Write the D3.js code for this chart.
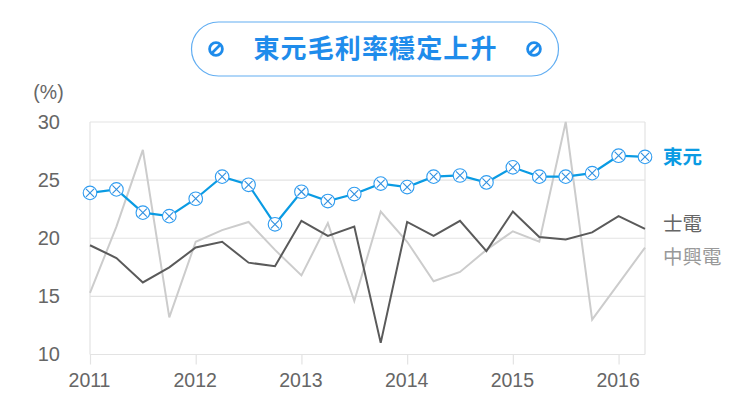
<!DOCTYPE html>
<html>
<head>
<meta charset="utf-8">
<script src="https://cdn.jsdelivr.net/npm/d3@7"></script>
<style>
html, body { margin: 0; padding: 0; background: #fff; }
svg { display: block; }
text { font-family: "Liberation Sans", "Noto Sans CJK TC", sans-serif; }
.cjk { font-family: "Noto Sans CJK TC", sans-serif; }
</style>
</head>
<body>
<div id="chart"></div>
<script>
const quarters = [2011, 2011.25, 2011.5, 2011.75, 2012, 2012.25, 2012.5, 2012.75, 2013, 2013.25, 2013.5,
  2013.75, 2014, 2014.25, 2014.5, 2014.75, 2015, 2015.25, 2015.5, 2015.75, 2016, 2016.25];
const dongyuan = [23.9, 24.2, 22.2, 21.9, 23.4, 25.3, 24.6, 21.2, 24.0, 23.2, 23.8,
  24.7, 24.4, 25.3, 25.4, 24.8, 26.1, 25.3, 25.3, 25.6, 27.1, 27.0];
const shihlin = [19.4, 18.3, 16.2, 17.5, 19.2, 19.7, 17.9, 17.6, 21.5, 20.2, 21.0,
  11.0, 21.4, 20.2, 21.5, 18.9, 22.3, 20.1, 19.9, 20.5, 21.9, 20.8];
const chunghsin = [15.3, 21.0, 27.6, 13.2, 19.7, 20.7, 21.4, 19.0, 16.8, 21.3, 14.6,
  22.3, 19.7, 16.3, 17.1, 19.0, 20.6, 19.7, 30.0, 13.0, 16.1, 19.2];
const yearTicks = [2011, 2012, 2013, 2014, 2015, 2016];
const valueTicks = [10, 15, 20, 25, 30];

const width = 750, height = 414;
const margin = { top: 122, right: 105, bottom: 60, left: 90 };

const svg = d3.select('#chart').append('svg')
  .attr('width', width)
  .attr('height', height);

const x = d3.scaleLinear()
  .domain([2011, 2016.25])
  .range([margin.left, width - margin.right]);

const y = d3.scaleLinear()
  .domain([10, 30])
  .range([height - margin.bottom + 0.5, margin.top]);

// title pill
const blue = '#1f8ceb';
svg.append('rect')
  .attr('x', 191.5).attr('y', 22)
  .attr('width', 367).attr('height', 54)
  .attr('rx', 27)
  .attr('fill', '#fff')
  .attr('stroke', '#62aef2')
  .attr('stroke-width', 1.2);

svg.append('text')
  .attr('class', 'cjk')
  .attr('x', 375).attr('y', 58)
  .attr('text-anchor', 'middle')
  .attr('font-size', 26)
  .attr('font-weight', 700)
  .attr('fill', blue)
  .attr('textLength', 243)
  .text('東元毛利率穩定上升');

[216, 534].forEach(cx => {
  const icon = svg.append('g').attr('transform', `translate(${cx},49)`);
  icon.append('circle').attr('r', 6.4).attr('fill', 'none').attr('stroke', blue).attr('stroke-width', 2.8);
  icon.append('line').attr('x1', -4).attr('y1', 4).attr('x2', 4).attr('y2', -4)
    .attr('stroke', blue).attr('stroke-width', 2.6);
});

// grid
const gridColor = '#e3e3e3';
svg.append('g').selectAll('line')
  .data(valueTicks)
  .join('line')
  .attr('x1', x.range()[0]).attr('x2', x.range()[1])
  .attr('y1', d => y(d)).attr('y2', d => y(d))
  .attr('stroke', gridColor)
  .attr('stroke-width', 1.2);

svg.append('line')
  .attr('x1', x(2016.25)).attr('x2', x(2016.25))
  .attr('y1', y(30)).attr('y2', y(10))
  .attr('stroke', gridColor).attr('stroke-width', 1.2);
svg.append('line')
  .attr('x1', x(2011)).attr('x2', x(2011))
  .attr('y1', y(30)).attr('y2', y(10))
  .attr('stroke', gridColor).attr('stroke-width', 1.2);

// axes
const xAxis = d3.axisBottom(x)
  .tickValues(yearTicks)
  .tickFormat(d3.format('d'))
  .tickSize(10)
  .tickPadding(8.5);
const gx = svg.append('g')
  .attr('transform', `translate(0,${y(10)})`)
  .call(xAxis);
gx.select('.domain').remove();
gx.selectAll('.tick line').attr('stroke', gridColor).attr('stroke-width', 1.2);
gx.selectAll('.tick text')
  .attr('font-family', '"Liberation Sans", sans-serif')
  .attr('font-size', 19.5)
  .attr('fill', '#666')
  .attr('dx', -1);

const yAxis = d3.axisLeft(y)
  .tickValues(valueTicks)
  .tickSize(0)
  .tickPadding(30);
const gy = svg.append('g')
  .attr('transform', `translate(${margin.left},0)`)
  .call(yAxis);
gy.select('.domain').remove();
gy.selectAll('.tick text')
  .attr('font-family', '"Liberation Sans", sans-serif')
  .attr('font-size', 20)
  .attr('fill', '#666');

svg.append('text')
  .attr('x', 48.5).attr('y', 99)
  .attr('text-anchor', 'middle')
  .attr('font-size', 19.5)
  .attr('fill', '#666')
  .text('(%)');

// lines
const line = d3.line()
  .x((d, i) => x(quarters[i]))
  .y(d => y(d));

svg.append('path').datum(chunghsin)
  .attr('d', line).attr('fill', 'none')
  .attr('stroke', '#cccccc').attr('stroke-width', 2);
svg.append('path').datum(shihlin)
  .attr('d', line).attr('fill', 'none')
  .attr('stroke', '#5a5a5a').attr('stroke-width', 2);
svg.append('path').datum(dongyuan)
  .attr('d', line).attr('fill', 'none')
  .attr('stroke', '#0a9be3').attr('stroke-width', 2.2);

// markers
const markers = svg.append('g').selectAll('g')
  .data(dongyuan)
  .join('g')
  .attr('transform', (d, i) => `translate(${x(quarters[i])},${y(d)})`);
markers.append('circle')
  .attr('r', 6.8)
  .attr('fill', '#fff')
  .attr('stroke', '#2f9cf0')
  .attr('stroke-width', 1.1);
markers.append('path')
  .attr('d', 'M-4,-4L4,4M-4,4L4,-4')
  .attr('stroke', '#2f8fe0')
  .attr('stroke-width', 1.1);

// series labels
const labels = [
  { name: '東元', py: dongyuan[21], color: '#0a9be3', weight: 700 },
  { name: '士電', py: 21.2, color: '#666', weight: 400 },
  { name: '中興電', py: 18.4, color: '#999', weight: 400 }
];
svg.append('g').selectAll('text')
  .data(labels)
  .join('text')
  .attr('class', 'cjk')
  .attr('x', 663)
  .attr('y', d => y(d.py))
  .attr('dy', '0.36em')
  .attr('font-size', 19.5)
  .attr('font-weight', d => d.weight)
  .attr('fill', d => d.color)
  .text(d => d.name);
</script>
</body>
</html>
